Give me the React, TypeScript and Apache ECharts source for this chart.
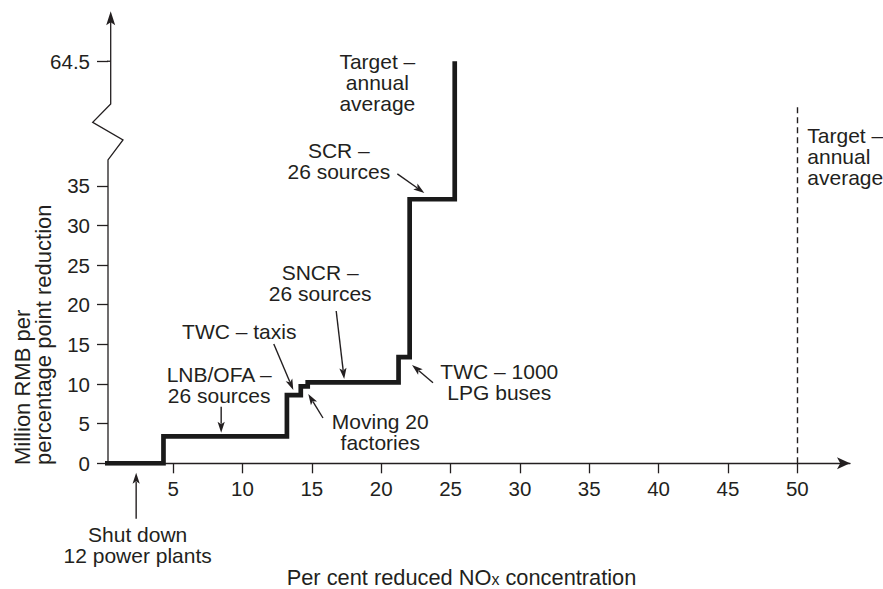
import React, { useEffect, useRef } from 'react';
import * as echarts from 'echarts';

// ---------- data ----------
const stepStartX = 0;
const stepX = [4.3, 13.2, 14.2, 14.7, 21.25, 22.05, 25.3];
const stepCost = [3.4, 8.6, 9.7, 10.2, 13.4, 33.3, 64.5];
const xTicks = [5, 10, 15, 20, 25, 30, 35, 40, 45, 50];
const yTicks = [0, 5, 10, 15, 20, 25, 30, 35, 64.5];
const targetX = [50];

// broken y-axis mapping (values above the break are shifted down)
const BREAK_LOW = 38;
const BREAK_SHIFT = 13.8;
const toDisp = (v: number) => (v > BREAK_LOW ? v - BREAK_SHIFT : v);
const BREAK_BOTTOM_DISP = 38.25;
const TARGET_TOP_DISP = 44.9;

const X_MIN = 0.3;
const X_MAX = 53.8;
const Y_MAX_DISP = 57;

const FONT = "'Liberation Sans', Arial, Helvetica, sans-serif";
const INK = '#231f20';
const ANN_SIZE = 21;

type Ann = {
  lines: string[];
  anchor: [number, number];
  text: [number, number];
  tail?: [number, number];
  align?: 'center' | 'left';
};

const annotations: Ann[] = [
  { lines: ['Shut down', '12 power plants'], anchor: [2.33, -1.2], tail: [0, 46], text: [1.5, 62] },
  { lines: ['LNB/OFA –', '26 sources'], anchor: [8.46, 3.86], tail: [0, -26], text: [-2, -57.7] },
  { lines: ['TWC – taxis'], anchor: [13.66, 9.24], tail: [-19.5, -46], text: [-54, -59] },
  { lines: ['Moving 20', 'factories'], anchor: [14.74, 8.74], tail: [14.7, 24], text: [72, 27.7] },
  { lines: ['SNCR –', '26 sources'], anchor: [17.33, 10.63], tail: [-8, -68], text: [-24, -106.3] },
  { lines: ['TWC – 1000', 'LPG buses'], anchor: [22.22, 12.4], tail: [21, 17.7], text: [87.3, 6.7] },
  { lines: ['SCR –', '26 sources'], anchor: [23.11, 34.1], tail: [-27, -19], text: [-85.5, -42.3] },
  { lines: ['Target –', 'annual', 'average'], anchor: [25.3, 64.5], text: [-77.4, 0.7] },
];

export default function App() {
  const ref = useRef<HTMLDivElement>(null);

  useEffect(() => {
    document.body.style.margin = '0';
    const chart = echarts.init(ref.current!, null, { renderer: 'svg' });

    const pts: [number, number][] = [[stepStartX, 0]];
    let prev = 0;
    stepX.forEach((x, i) => {
      pts.push([x, toDisp(prev)]);
      pts.push([x, toDisp(stepCost[i])]);
      prev = stepCost[i];
    });

    const yDisp = yTicks.map(toDisp);

    chart.setOption({
      animation: false,
      grid: { left: 108, right: 33, top: 11.3, bottom: 125.7, containLabel: false },
      xAxis: {
        type: 'value',
        min: X_MIN,
        max: X_MAX,
        axisLine: {
          show: true,
          lineStyle: { color: INK, width: 1.3 },
          symbol: ['none', 'arrow'],
          symbolSize: [9, 13],
        },
        axisTick: { show: true, length: 10, customValues: xTicks, lineStyle: { color: INK, width: 1.3 } },
        axisLabel: { customValues: xTicks, fontSize: 20.5, color: INK, fontFamily: FONT, margin: 15 },
        splitLine: { show: false },
      },
      yAxis: {
        type: 'value',
        min: 0,
        max: Y_MAX_DISP,
        axisLine: { show: false },
        axisTick: { show: true, length: 11, customValues: yDisp, lineStyle: { color: INK, width: 1.3 } },
        axisLabel: {
          customValues: yDisp,
          fontSize: 20.5,
          color: INK,
          fontFamily: FONT,
          margin: 18,
          formatter: (v: number) => {
            const i = yDisp.findIndex((d) => Math.abs(d - v) < 1e-6);
            return i >= 0 ? String(yTicks[i]) : '';
          },
        },
        splitLine: { show: false },
      },
      series: [
        {
          type: 'line',
          data: pts,
          showSymbol: false,
          lineStyle: { color: '#1a1a1a', width: 4.7, join: 'miter', cap: 'butt' },
          markLine: {
            silent: true,
            symbol: ['none', 'none'],
            label: { show: false },
            lineStyle: { color: INK, width: 1.4, type: [6, 4] },
            data: targetX.map((t) => [{ coord: [t, 0] }, { coord: [t, TARGET_TOP_DISP] }]),
          },
        },
      ],
    });

    const px = (x: number, y: number) => chart.convertToPixel({ gridIndex: 0 }, [x, y]) as number[];

    const g: any[] = [];

    // broken y axis line
    const [ax, y0] = px(X_MIN, 0);
    const [, yb] = px(X_MIN, BREAK_BOTTOM_DISP);
    const [, yTop] = px(X_MIN, Y_MAX_DISP);
    const [, y64] = px(X_MIN, toDisp(64.5));
    const ux = ax + 2.7;
    g.push({
      type: 'polyline',
      silent: true,
      shape: {
        points: [
          [ax, y0],
          [ax, yb],
          [ax + 15, yb - 20],
          [ax - 15.3, yb - 37.6],
          [ux, yb - 56],
          [ux, yTop + 10],
        ],
      },
      style: { stroke: INK, lineWidth: 1.3, fill: 'none' },
    });
    g.push({ type: 'line', silent: true, shape: { x1: ax - 1, y1: y64, x2: ux, y2: y64 }, style: { stroke: INK, lineWidth: 1.3 } });
    g.push({
      type: 'polygon',
      silent: true,
      shape: { points: [[ux, yTop], [ux + 4.5, yTop + 14], [ux, yTop + 11], [ux - 4.5, yTop + 14]] },
      style: { fill: INK },
    });

    // annotations
    annotations.forEach((a) => {
      const [tx, ty] = px(a.anchor[0], toDisp(a.anchor[1]));
      if (a.tail) {
        const sx = tx + a.tail[0];
        const sy = ty + a.tail[1];
        const dx = tx - sx;
        const dy = ty - sy;
        const len = Math.sqrt(dx * dx + dy * dy);
        const ux2 = dx / len;
        const uy2 = dy / len;
        const hl = 11;
        const hw = 3.6;
        const bx = tx - ux2 * hl;
        const by = ty - uy2 * hl;
        g.push({
          type: 'line',
          silent: true,
          shape: { x1: sx, y1: sy, x2: bx + ux2 * 2, y2: by + uy2 * 2 },
          style: { stroke: INK, lineWidth: 1.4 },
        });
        g.push({
          type: 'polygon',
          silent: true,
          shape: {
            points: [
              [tx, ty],
              [bx - uy2 * hw, by + ux2 * hw],
              [bx + ux2 * 2.5, by + uy2 * 2.5],
              [bx + uy2 * hw, by - ux2 * hw],
            ],
          },
          style: { fill: INK },
        });
      }
      g.push({
        type: 'text',
        silent: true,
        x: tx + a.text[0],
        y: ty + a.text[1] - 10.5,
        style: {
          text: a.lines.join('\n'),
          align: a.align || 'center',
          verticalAlign: 'top',
          fontSize: ANN_SIZE,
          lineHeight: 21,
          fontFamily: FONT,
          fill: INK,
        },
      });
    });

    // right target label
    const [rx, ry] = px(targetX[0], TARGET_TOP_DISP);
    g.push({
      type: 'text',
      silent: true,
      x: rx + 10,
      y: ry + 27.8 - 10.5,
      style: {
        text: 'Target –\nannual\naverage',
        align: 'left',
        verticalAlign: 'top',
        fontSize: ANN_SIZE,
        lineHeight: 21,
        fontFamily: FONT,
        fill: INK,
      },
    });

    // axis titles
    g.push({
      type: 'text',
      silent: true,
      x: 33,
      y: 465,
      rotation: Math.PI / 2,
      style: {
        text: 'Million RMB per\npercentage point reduction',
        align: 'left',
        verticalAlign: 'middle',
        fontSize: 22,
        lineHeight: 21.5,
        fontFamily: FONT,
        fill: INK,
      },
    });
    g.push({
      type: 'text',
      silent: true,
      x: 461.5,
      y: 577,
      style: {
        text: '{n|Per cent reduced NO}{s|x}{n| concentration}',
        align: 'center',
        verticalAlign: 'middle',
        fill: INK,
        rich: {
          n: { fontSize: 21.8, lineHeight: 21, fontFamily: FONT, fill: INK, verticalAlign: 'top', padding: [0, 0, 7, 0] },
          s: { fontSize: 16, lineHeight: 16, fontFamily: FONT, fill: INK, verticalAlign: 'bottom' },
        },
      },
    });

    chart.setOption({ graphic: g });

    return () => chart.dispose();
  }, []);

  return <div ref={ref} style={{ width: 883, height: 589 }} />;
}
